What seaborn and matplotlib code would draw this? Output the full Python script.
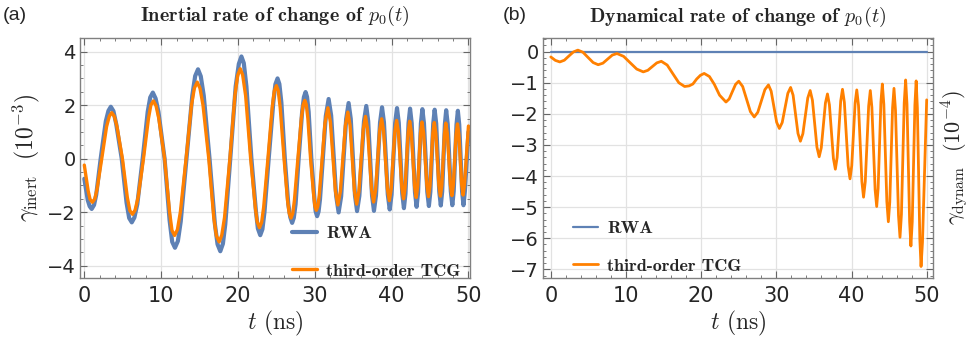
import matplotlib
matplotlib.use("Agg")
import matplotlib.pyplot as plt
from matplotlib.ticker import MultipleLocator
import seaborn as sns

# Panel (a): inertial rate (units of 1e-3)
t_inert_rwa = [0, 0.45, 0.7, 0.96, 1.27, 1.55, 2.13, 2.8, 3.14, 3.45, 3.79, 4.15, 4.87,
               5.5, 5.84, 6.18, 6.52, 6.9, 7.6, 8.25, 8.58, 8.92, 9.28, 9.65, 10.45,
               11.1, 11.44, 11.8, 12.18, 12.55, 13.3, 14.05, 14.43, 14.8, 15.16, 15.55,
               16.3, 17.0, 17.34, 17.7, 18.04, 18.35, 19.0, 19.7, 20.11, 20.45, 20.76,
               21.1, 21.75, 22.35, 22.59, 22.9, 23.18, 23.45, 24.0, 24.6, 24.87, 25.15,
               25.39, 25.65, 26.1, 26.55, 26.81, 27.05, 27.27, 27.5, 27.9, 28.35, 28.58,
               28.8, 28.99, 29.2, 29.55, 29.95, 30.11, 30.3, 30.49, 30.68, 31.43, 31.8,
               32.13, 32.78, 33.1, 33.43, 34.08, 34.4, 34.68, 35.23, 35.5, 35.8, 36.4,
               36.7, 36.95, 37.45, 37.7, 37.96, 38.49, 38.75, 39.0, 39.5, 39.75, 39.99,
               40.46, 40.7, 40.93, 41.38, 41.6, 41.8, 42.2, 42.4, 42.61, 43.04, 43.25,
               43.44, 43.81, 44.0, 44.21, 44.64, 44.85, 45.04, 45.41, 45.6, 45.8, 46.2,
               46.4, 46.58, 46.93, 47.1, 47.3, 47.7, 47.9, 48.08, 48.44, 48.62, 48.8,
               49.17, 49.35, 49.53, 50.0]
g_inert_rwa = [-0.75, -1.55, -1.78, -1.88, -1.73, -1.35, 0.0, 1.4, 1.79, 1.94, 1.78, 1.3, 0.0,
               -1.65, -2.22, -2.38, -2.2, -1.7, 0.0, 1.75, 2.29, 2.47, 2.25, 1.75, 0.0,
               -2.3, -3.11, -3.33, -3.08, -2.35, 0.0, 2.35, 3.09, 3.34, 3.08, 2.35,
               0.0, -2.45, -3.2, -3.46, -3.18, -2.45, 0.0, 2.7, 3.54, 3.82, 3.57,
               2.7, 0.0, -2.0, -2.61, -2.86, -2.64, -2.0, 0.0, 2.1, 2.78, 3.0,
               2.79, 2.1, 0.0, -1.7, -2.19, -2.4, -2.21, -1.7, 0.0, 1.75, 2.3,
               2.49, 2.31, 1.75, 0.0, -1.5, -1.97, -2.15, -1.98, -1.51, 1.59, 2.23,
               1.61, -1.39, -2.01, -1.41, 1.48, 2.08, 1.49, -1.37, -1.96, -1.39, 1.40,
               1.97, 1.40, -1.38, -1.95, -1.38, 1.35, 1.92, 1.36, -1.34, -1.9, -1.35,
               1.34, 1.89, 1.34, -1.30, -1.85, -1.31, 1.33, 1.87, 1.33, -1.26, -1.8,
               -1.27, 1.32, 1.85, 1.32, -1.24, -1.77, -1.24, 1.30, 1.83, 1.31, -1.23,
               -1.75, -1.23, 1.29, 1.81, 1.29, -1.22, -1.74, -1.22, 1.27, 1.79, 1.27,
               -1.22, -1.74, -1.23, 1.0]

t_inert_tcg = [0, 0.5, 0.75, 1.05, 1.37, 1.65, 2.27, 2.9, 3.26, 3.57, 3.91, 4.25, 4.96,
               5.6, 5.93, 6.27, 6.61, 7.0, 7.7, 8.35, 8.66, 9.0, 9.34, 9.7, 10.45,
               11.1, 11.41, 11.75, 12.12, 12.5, 13.25, 13.95, 14.33, 14.7, 15.06, 15.45,
               16.2, 16.85, 17.19, 17.55, 17.89, 18.25, 18.95, 19.6, 19.96, 20.3, 20.61,
               21.0, 21.65, 22.25, 22.49, 22.8, 23.08, 23.35, 23.9, 24.45, 24.73, 25.0,
               25.24, 25.5, 26.0, 26.45, 26.66, 26.9, 27.13, 27.35, 27.8, 28.25, 28.48,
               28.7, 28.89, 29.1, 29.45, 29.85, 30.01, 30.2, 30.39, 30.58, 31.33, 31.7,
               32.03, 32.68, 33.0, 33.33, 33.98, 34.3, 34.59, 35.16, 35.45, 35.74, 36.31,
               36.6, 36.86, 37.39, 37.65, 37.91, 38.44, 38.7, 38.95, 39.45, 39.7, 39.94,
               40.41, 40.65, 40.88, 41.33, 41.55, 41.75, 42.15, 42.35, 42.56, 42.99, 43.2,
               43.39, 43.76, 43.95, 44.16, 44.59, 44.8, 44.99, 45.36, 45.55, 45.75, 46.15,
               46.35, 46.53, 46.88, 47.05, 47.25, 47.65, 47.85, 48.03, 48.39, 48.57, 48.75,
               49.12, 49.3, 49.48, 50.0]
g_inert_tcg = [-0.24, -1.2, -1.52, -1.63, -1.5, -1.15, 0.0, 1.2, 1.59, 1.72, 1.58, 1.2, 0.0,
               -1.45, -1.94, -2.08, -1.92, -1.45, 0.0, 1.5, 2.0, 2.16, 1.97, 1.5, 0.0,
               -2.0, -2.68, -2.87, -2.65, -2.0, 0.0, 2.0, 2.64, 2.86, 2.63, 2.0,
               0.0, -2.2, -2.88, -3.11, -2.86, -2.2, 0.0, 2.35, 3.11, 3.36, 3.13,
               2.35, 0.0, -1.8, -2.35, -2.58, -2.38, -1.8, 0.0, 1.9, 2.53, 2.73,
               2.54, 1.9, 0.0, -1.55, -2.03, -2.22, -2.05, -1.55, 0.0, 1.5, 2.01,
               2.18, 2.02, 1.5, 0.0, -1.35, -1.77, -1.93, -1.78, -1.37, 1.34, 1.9,
               1.37, -1.20, -1.73, -1.22, 1.23, 1.74, 1.24, -1.20, -1.70, -1.22, 1.10,
               1.58, 1.11, -1.15, -1.62, -1.17, 1.04, 1.49, 1.04, -1.12, -1.57, -1.13,
               0.99, 1.43, 1.0, -1.07, -1.50, -1.08, 0.98, 1.40, 0.98, -1.03, -1.45,
               -1.04, 0.96, 1.37, 0.96, -1.01, -1.42, -1.02, 0.95, 1.35, 0.95, -1.0,
               -1.40, -1.0, 0.93, 1.33, 0.93, -0.98, -1.38, -0.99, 0.91, 1.30, 0.91,
               -0.97, -1.36, -0.97, 1.22]

# Panel (b): dynamical rate (units of 1e-4)
t_dyn_rwa = [0, 50]
g_dyn_rwa = [0.0, 0.0]

t_dyn_tcg = [0, 0.6, 1.2, 1.8, 2.4, 3.0, 3.6, 4.28, 4.95, 5.63, 6.3, 6.93, 7.55, 8.18,
             8.8, 9.68, 10.55, 11.43, 12.3, 12.9, 13.5, 14.1, 14.7, 15.48, 16.25, 17.03,
             17.8, 18.4, 18.9, 19.4, 19.9, 20.4, 21.1, 21.75, 22.45, 23.3, 23.73, 24.15,
             24.58, 25.0, 25.52, 26.55, 27.06, 27.53, 28.48, 28.95, 29.31, 30.04, 30.4,
             30.78, 31.53, 31.9, 32.23, 32.88, 33.2, 33.53, 34.18, 34.5, 34.8, 35.4,
             35.7, 35.98, 36.53, 36.8, 37.06, 37.59, 37.85, 38.09, 38.56, 38.8, 39.05,
             39.55, 39.8, 40.03, 40.48, 40.7, 40.93, 41.38, 41.6, 41.83, 42.28, 42.5,
             42.71, 43.14, 43.35, 43.54, 43.91, 44.1, 44.3, 44.7, 44.9, 45.09, 45.46,
             45.65, 45.85, 46.25, 46.45, 46.64, 47.01, 47.2, 47.38, 47.73, 47.9, 48.08,
             48.43, 48.6, 48.76, 49.09, 49.25, 49.44, 50.0]
g_dyn_tcg = [-0.17, -0.28, -0.33, -0.275, -0.14, -0.01, 0.05, -0.02, -0.185, -0.35, -0.42,
             -0.37, -0.24, -0.11, -0.06, -0.15, -0.355, -0.56, -0.65, -0.60, -0.48, -0.36,
             -0.31, -0.43, -0.715, -1.0, -1.12, -1.10, -1.04, -0.88, -0.76, -0.70, -0.80,
             -1.05, -1.40, -1.62, -1.52, -1.285, -1.05, -0.95, -1.12, -1.93, -2.1, -1.95,
             -1.22, -1.07, -1.27, -2.27, -2.47, -2.28, -1.34, -1.15, -1.40, -2.63, -2.88,
             -2.64, -1.49, -1.25, -1.56, -3.07, -3.38, -3.09, -1.65, -1.36, -1.71, -3.43,
             -3.78, -3.40, -1.59, -1.21, -1.63, -3.67, -4.09, -3.67, -1.65, -1.23, -1.73,
             -4.18, -4.68, -4.18, -1.75, -1.25, -1.79, -4.44, -4.98, -4.40, -1.62, -1.04,
             -1.69, -4.82, -5.47, -4.84, -1.81, -1.18, -1.88, -5.27, -5.97, -5.23, -1.65,
             -0.91, -1.69, -5.47, -6.25, -5.47, -1.72, -0.94, -1.81, -6.04, -6.91, -6.13,
             -1.55]

BLUE = "#5E81B5"
ORANGE = "#FF8000"

sns.set_style("white")
plt.rcParams["font.family"] = ["DejaVu Sans"]
plt.rcParams["mathtext.fontset"] = "cm"

fig = plt.figure(figsize=(9.71, 3.48), dpi=100)
ax1 = fig.add_axes([80 / 971, 70 / 348, 390 / 971, 240 / 348])
ax2 = fig.add_axes([543.3 / 971, 70.3 / 348, 389.4 / 971, 239.4 / 348])


def style_axes(ax, xlim, ylim, ymajor, yminor):
    ax.set_xlim(xlim)
    ax.set_ylim(ylim)
    ax.xaxis.set_major_locator(MultipleLocator(10))
    ax.xaxis.set_minor_locator(MultipleLocator(2))
    ax.yaxis.set_major_locator(MultipleLocator(ymajor))
    ax.yaxis.set_minor_locator(MultipleLocator(yminor))
    ax.tick_params(which="both", direction="in", top=True, right=True,
                   bottom=True, left=True, color="#666666")
    ax.tick_params(which="major", length=5, width=0.8)
    ax.tick_params(which="minor", length=2.5, width=0.6)
    ax.tick_params(axis="x", labelsize=15, pad=6)
    ax.tick_params(axis="y", labelsize=14, pad=3)
    ax.grid(True, which="major", color="#e2e2e2", lw=0.9)
    ax.set_axisbelow(True)
    for s in ax.spines.values():
        s.set_color("#808080")
        s.set_linewidth(1.0)


legend_kw = dict(loc="upper left", frameon=False, prop={"family": "cmb10", "size": 13},
                 handlelength=1.4, handletextpad=0.5, labelspacing=1.2,
                 borderpad=0, borderaxespad=0)

# (a) Inertial rate
sns.lineplot(x=t_inert_rwa, y=g_inert_rwa, ax=ax1, color=BLUE, lw=3.0,
             estimator=None, sort=False, label="RWA", solid_joinstyle="round")
sns.lineplot(x=t_inert_tcg, y=g_inert_tcg, ax=ax1, color=ORANGE, lw=2.4,
             estimator=None, sort=False, label="third-order TCG", solid_joinstyle="round")
style_axes(ax1, (-0.56, 50.2), (-4.46, 4.51), 2, 0.5)
ax1.set_title(r"Inertial rate of change of $p_0(t)$", fontfamily="cmb10",
              fontsize=14.5, pad=12)
ax1.set_xlabel(r"$t$ $\mathrm{(ns)}$", fontsize=17, labelpad=2)
ax1.set_ylabel(r"$\gamma_{\mathrm{inert}}$  $\mathbf{(10^{-3})}$", fontsize=17, labelpad=4)
ax1.legend(bbox_to_anchor=(0.543, 0.218), **legend_kw)

# (b) Dynamical rate
sns.lineplot(x=t_dyn_rwa, y=g_dyn_rwa, ax=ax2, color=BLUE, lw=1.6,
             estimator=None, sort=False, label="RWA")
sns.lineplot(x=t_dyn_tcg, y=g_dyn_tcg, ax=ax2, color=ORANGE, lw=2.0,
             estimator=None, sort=False, label="third-order TCG", solid_joinstyle="round")
style_axes(ax2, (-1.0, 50.8), (-7.27, 0.43), 1, 0.2)
ax2.set_title(r"Dynamical rate of change of $p_0(t)$", fontfamily="cmb10",
              fontsize=14.5, pad=12)
ax2.set_xlabel(r"$t$ $\mathrm{(ns)}$", fontsize=17, labelpad=2)
ax2.yaxis.set_label_position("right")
ax2.set_ylabel(r"$\gamma_{\mathrm{dynam}}$  $\mathbf{(10^{-4})}$", fontsize=16,
               labelpad=5, rotation=90)
ax2.legend(bbox_to_anchor=(0.0755, 0.238), **legend_kw)

fig.text(3 / 971, 1 - 16 / 348, "(a)", ha="left", va="center", fontsize=14,
         family="Liberation Sans")
fig.text(503 / 971, 1 - 16 / 348, "(b)", ha="left", va="center", fontsize=14,
         family="Liberation Sans")

fig.savefig("out.png", dpi=100)
